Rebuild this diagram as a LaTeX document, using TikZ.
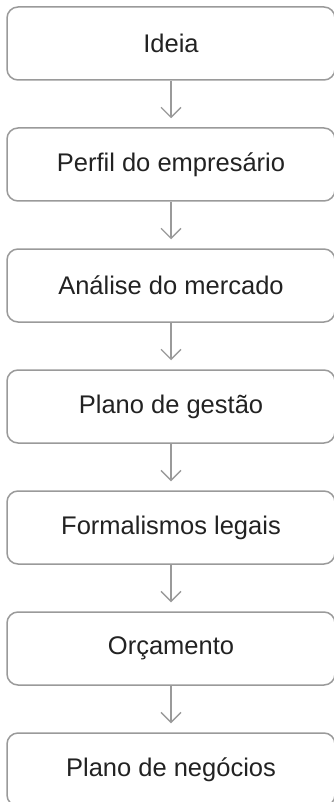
\documentclass[tikz,border=0pt]{standalone}
\usepackage{fontspec}
\setmainfont{Liberation Sans}
\usetikzlibrary{arrows.meta}
\definecolor{edgegray}{HTML}{9A9A9A}
\definecolor{textgray}{HTML}{222222}
\tikzset{
  stepbox/.style={draw=edgegray, line width=1.5pt, rounded corners=11pt,
    minimum width=328pt, minimum height=73pt, inner sep=0pt,
    text=textgray, font=\fontsize{25.5pt}{30pt}\selectfont},
  flow/.style={draw=edgegray, line width=1.3pt,
    -{Straight Barb[length=10pt,width=20pt,line width=1.3pt]}, shorten >=9pt}
}
\begin{document}
\begin{tikzpicture}[x=1pt,y=-1pt]
      \useasboundingbox (0,0) rectangle (333,802);
      \draw
        (171,43.5) node[stepbox] (0){Ideia}
        (171,164.5) node[stepbox] (1){Perfil do empresário}
        (171,285.5) node[stepbox] (2){Análise do mercado}
        (171,406.5) node[stepbox] (3){Plano de gestão}
        (171,527.5) node[stepbox] (4){Formalismos legais}
        (171,648.5) node[stepbox] (5){Orçamento}
        (171,769.5) node[stepbox] (6){Plano de negócios};
      \begin{scope}[flow]
        \draw (0) to (1);
        \draw (1) to (2);
        \draw (2) to (3);
        \draw (3) to (4);
        \draw (4) to (5);
        \draw (5) to (6);
      \end{scope}
    \end{tikzpicture}
\end{document}
